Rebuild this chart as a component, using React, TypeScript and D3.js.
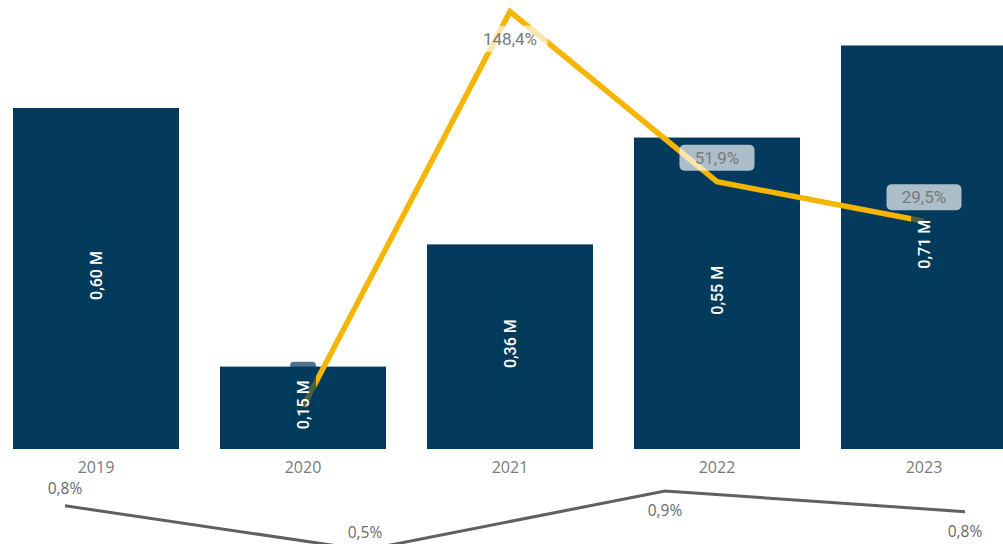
import React from "react";
import * as d3 from "d3";

const years = ["2019", "2020", "2021", "2022", "2023"];
const revenue = [0.6, 0.145, 0.36, 0.548, 0.71];
const revenueLabels = ["0,60 M", "0,15 M", "0,36 M", "0,55 M", "0,71 M"];
const growthYears = ["2020", "2021", "2022", "2023"];
const growth = [-75.8, 148.4, 51.9, 29.5];
const growthLabels = ["", "148,4%", "51,9%", "29,5%"];
const ratioKeys = ["2020", "2021", "2022", "2023"];
const ratio = [0.8, 0.5, 0.9, 0.76];
const ratioLabels = ["0,8%", "0,5%", "0,9%", "0,8%"];
const ratioPlacement = ["above", "above", "below", "below"];

const W = 1003;
const H = 544;
const BAR = "#033a5d";
const YELLOW = "#f5b500";
const FONT = "Roboto, 'Open Sans', sans-serif";

export default function App() {
  const x = d3
    .scaleBand<string>()
    .domain(years)
    .range([-7.5, 1027.5])
    .paddingInner(41 / 207)
    .paddingOuter(20.5 / 207);
  const y = d3.scaleLinear().domain([0, 0.79]).range([449, 0]);
  const yg = d3.scaleLinear().domain([-100, 155]).range([449.5, 0]);
  const xr = d3.scalePoint<string>().domain(ratioKeys).range([65, 965]);
  const yr = d3.scaleLinear().domain([0.5, 0.9]).range([550, 491]);

  const cx = (k: string) => (x(k) as number) + x.bandwidth() / 2;

  const growthLine = d3
    .line<number>()
    .x((_, i) => cx(growthYears[i]))
    .y((d) => yg(d));
  const ratioLine = d3
    .line<number>()
    .x((_, i) => xr(ratioKeys[i]) as number)
    .y((d) => yr(d));

  return (
    <svg
      width={W}
      height={H}
      style={{ position: "absolute", left: 0, top: 0, background: "#fff" }}
      fontFamily={FONT}
    >
      {years.map((yr0, i) => (
        <rect
          key={yr0}
          x={x(yr0)}
          y={y(revenue[i])}
          width={x.bandwidth()}
          height={y(0) - y(revenue[i])}
          fill={BAR}
        />
      ))}
      {years.map((yr0) => (
        <text
          key={"t" + yr0}
          x={cx(yr0)}
          y={467}
          dy="0.35em"
          textAnchor="middle"
          fontSize={16}
          fill="#7a7a7a"
          fontFamily="'Open Sans', sans-serif"
        >
          {yr0}
        </text>
      ))}
      <path
        d={growthLine(growth) || ""}
        fill="none"
        stroke={YELLOW}
        strokeWidth={5.5}
        strokeLinejoin="miter"
      />
      {years.map((yr0, i) => {
        const midY = (y(revenue[i]) + y(0)) / 2 - 3;
        const c = cx(yr0);
        return (
          <g key={"l" + yr0}>
            <rect
              x={c - 13}
              y={midY - 43}
              width={26}
              height={86}
              rx={4}
              fill={BAR}
              opacity={0.7}
            />
            <text
              transform={`translate(${c},${midY}) rotate(-90)`}
              textAnchor="middle"
              dy="0.35em"
              fontSize={16}
              fontWeight={500}
              fill="#ffffff"
            >
              {revenueLabels[i]}
            </text>
          </g>
        );
      })}
      {growthYears.map((g, i) => {
        if (!growthLabels[i]) return null;
        const px = cx(g);
        const py = yg(growth[i]);
        const isPeak = growth[i] === d3.max(growth);
        const ly = isPeak ? py + 27 : py - 24;
        return (
          <g key={"g" + g}>
            <rect
              x={px - 37.5}
              y={ly - 13}
              width={75}
              height={26}
              rx={5}
              fill="#ffffff"
              opacity={0.67}
            />
            <text
              x={px}
              y={ly}
              dy="0.35em"
              textAnchor="middle"
              fontSize={17}
              fill="#7a7a7a"
            >
              {growthLabels[i]}
            </text>
          </g>
        );
      })}
      <path
        d={ratioLine(ratio) || ""}
        fill="none"
        stroke="#606060"
        strokeWidth={3}
      />
      {ratioKeys.map((k, i) => {
        const px = xr(k) as number;
        const py = yr(ratio[i]);
        const ly = ratioPlacement[i] === "above" ? py - 17 : py + 20;
        return (
          <text
            key={"r" + k}
            x={px}
            y={ly}
            dy="0.35em"
            textAnchor="middle"
            fontSize={15.5}
            fill="#6a6a6a"
            fontFamily="'Open Sans', sans-serif"
          >
            {ratioLabels[i]}
          </text>
        );
      })}
    </svg>
  );
}
